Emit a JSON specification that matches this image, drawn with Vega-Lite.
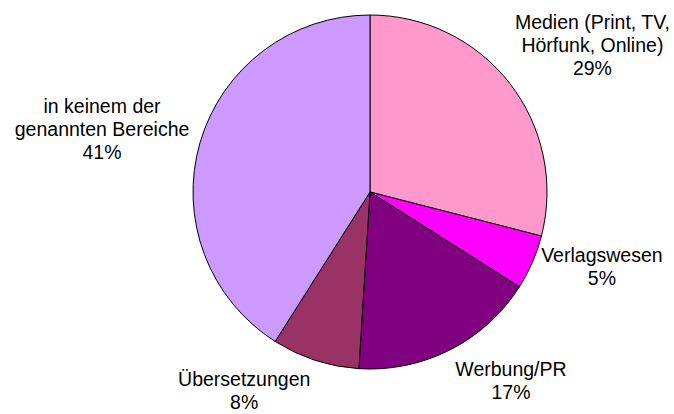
{
  "$schema": "https://vega.github.io/schema/vega-lite/v6.json",
  "width": 608,
  "height": 384,
  "autosize": "none",
  "padding": {"left": 66, "top": 0, "right": 0, "bottom": 30},
  "background": "white",
  "view": {"stroke": null},
  "data": {
    "values": [
      {"cat": "Medien", "value": 29, "idx": 1, "label": "Medien (Print, TV,\nHörfunk, Online)\n29%"},
      {"cat": "Verlagswesen", "value": 5, "idx": 2, "label": "Verlagswesen\n5%"},
      {"cat": "Werbung/PR", "value": 17, "idx": 3, "label": "Werbung/PR\n17%"},
      {"cat": "Übersetzungen", "value": 8, "idx": 4, "label": "Übersetzungen\n8%"},
      {"cat": "keine", "value": 41, "idx": 5, "label": "in keinem der\ngenannten Bereiche\n41%"}
    ]
  },
  "encoding": {
    "theta": {"field": "value", "type": "quantitative", "stack": true},
    "order": {"field": "idx", "type": "quantitative"}
  },
  "layer": [
    {
      "mark": {"type": "arc", "outerRadius": 177, "stroke": "black", "strokeWidth": 1},
      "encoding": {
        "color": {
          "field": "cat",
          "type": "nominal",
          "scale": {
            "domain": ["Medien", "Verlagswesen", "Werbung/PR", "Übersetzungen", "keine"],
            "range": ["#FF99CC", "#FF00FF", "#800080", "#993366", "#CC99FF"]
          },
          "legend": null
        }
      }
    },
    {
      "mark": {"type": "text", "radius": 266, "thetaOffset": 0.079, "dy": -23, "fontSize": 19.5, "font": "Liberation Sans", "lineBreak": "\n", "lineHeight": 23, "align": "center", "baseline": "middle", "color": "black"},
      "encoding": {"text": {"condition": {"test": "datum.cat === 'Medien'", "field": "label", "type": "nominal"}, "value": ""}}
    },
    {
      "mark": {"type": "text", "radius": 244, "thetaOffset": -0.092, "dy": -11.5, "fontSize": 19.5, "font": "Liberation Sans", "lineBreak": "\n", "lineHeight": 23, "align": "center", "baseline": "middle", "color": "black"},
      "encoding": {"text": {"condition": {"test": "datum.cat === 'Verlagswesen'", "field": "label", "type": "nominal"}, "value": ""}}
    },
    {
      "mark": {"type": "text", "radius": 236, "thetaOffset": -0.169, "dy": -11.5, "fontSize": 19.5, "font": "Liberation Sans", "lineBreak": "\n", "lineHeight": 23, "align": "center", "baseline": "middle", "color": "black"},
      "encoding": {"text": {"condition": {"test": "datum.cat === 'Werbung/PR'", "field": "label", "type": "nominal"}, "value": ""}}
    },
    {
      "mark": {"type": "text", "radius": 236, "thetaOffset": 0.248, "dy": -11.5, "fontSize": 19.5, "font": "Liberation Sans", "lineBreak": "\n", "lineHeight": 23, "align": "center", "baseline": "middle", "color": "black"},
      "encoding": {"text": {"condition": {"test": "datum.cat === 'Übersetzungen'", "field": "label", "type": "nominal"}, "value": ""}}
    },
    {
      "mark": {"type": "text", "radius": 275, "thetaOffset": -0.056, "dy": -23, "fontSize": 19.5, "font": "Liberation Sans", "lineBreak": "\n", "lineHeight": 23, "align": "center", "baseline": "middle", "color": "black"},
      "encoding": {"text": {"condition": {"test": "datum.cat === 'keine'", "field": "label", "type": "nominal"}, "value": ""}}
    }
  ]
}
